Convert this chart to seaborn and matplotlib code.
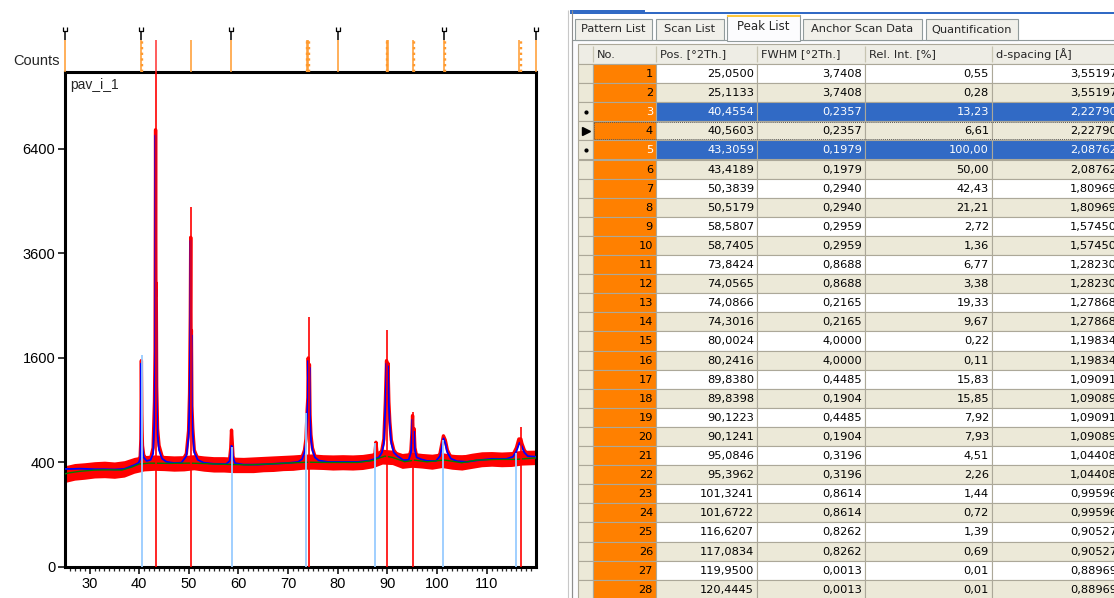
import numpy as np
import matplotlib
matplotlib.use("Agg")
import matplotlib.pyplot as plt
import seaborn as sns
from matplotlib.patches import Rectangle
from matplotlib.ticker import MultipleLocator

# --------------------------------
# PATTERN DATA
# --------------------------------

# background (green)
bg_x = [25.1, 26, 28, 31, 34, 36.5, 38.5, 40, 42, 46, 50, 53, 57, 62, 66, 70, 74, 78, 84, 87,
        89.5, 91, 93.5, 95.5, 98, 101.5, 105, 108, 112, 116, 119.9]
bg_y = [318, 325, 335, 344, 346, 344, 365, 388, 395, 393, 395, 392, 386, 382, 388, 396, 402, 400,
        400, 415, 450, 440, 406, 418, 405, 419, 398, 418, 424, 424, 436]

# noise band of the observed scan (red)
env_x = [25.1, 27, 29, 31, 33, 35, 37, 39, 41, 43, 45, 47, 49, 51, 53, 55, 57, 59, 61, 63, 65, 67,
         69, 71, 73, 75, 77, 79, 81, 83, 85, 87, 89, 91, 93, 95, 97, 99, 101, 103, 105, 107, 109,
         111, 113, 115, 117, 119.9]
env_lo = [262, 276, 282, 290, 292, 288, 296, 322, 338, 342, 340, 336, 338, 346, 336, 330, 330, 326,
          326, 326, 332, 334, 340, 342, 350, 350, 348, 344, 346, 344, 348, 360, 388, 384, 356, 364,
          358, 350, 362, 350, 344, 356, 368, 372, 368, 370, 380, 384]
env_hi = [376, 392, 398, 406, 410, 404, 414, 440, 454, 460, 456, 452, 454, 462, 452, 446, 446, 442,
          440, 444, 448, 452, 456, 460, 466, 468, 462, 460, 462, 460, 464, 476, 508, 500, 472, 482,
          472, 466, 478, 466, 458, 474, 486, 488, 484, 488, 498, 500]

# observed scan around the peaks (red)
obs_x = [25.1, 39, 39.9, 40.2, 40.34, 40.44, 40.52, 40.58, 40.66, 40.9, 41.5, 42.3, 42.8, 43.08,
         43.2, 43.3, 43.37, 43.43, 43.52, 43.7, 44.0, 44.6, 45.5, 47, 48.5, 49.5, 49.95, 50.15,
         50.3, 50.38, 50.45, 50.52, 50.62, 50.8, 51.1, 51.8, 53, 57.5, 58.2, 58.45, 58.6, 58.76,
         58.9, 59.3, 61, 72, 72.8, 73.3, 73.6, 73.84, 73.98, 74.06, 74.18, 74.3, 74.42, 74.6, 74.9,
         75.4, 76.2, 86.5, 87.5, 87.7, 87.9, 88.3, 88.9, 89.3, 89.6, 89.84, 89.98, 90.12, 90.3,
         90.5, 90.8, 91.3, 92, 93.2, 94.3, 94.75, 94.95, 95.08, 95.22, 95.39, 95.55, 95.9, 96.8,
         99.8, 100.6, 101.0, 101.3, 101.67, 102.1, 102.8, 115.3, 116.0, 116.5, 116.9, 117.1,
         117.6, 118.3, 119.9]
obs_y = [330, 380, 410, 450, 600, 1560, 860, 680, 540, 460, 420, 430, 520, 999,
         1700, 7000, 2700, 2950, 1200, 700, 540, 450, 410, 400, 402, 470, 680, 1100,
         2300, 3980, 1800, 2050, 950, 700, 500, 430, 400, 390, 420, 520, 686, 560,
         450, 400, 388, 408, 440, 500, 600, 900, 1050, 1600, 1200, 1500, 850, 640, 520,
         450, 420, 420, 470, 570, 480, 450, 500, 600, 1000, 1560, 1150, 1520, 1000,
         770, 590, 500, 460, 425, 430, 500, 660, 840, 600, 700, 520, 450, 430,
         420, 470, 560, 630, 590, 500, 440, 460, 520, 600, 600, 560,
         500, 460, 450]

# calculated profile (blue)
calc_x = [25.1, 26.5, 28, 29.5, 31, 33, 35, 37, 39, 39.9, 40.2, 40.32, 40.42, 40.5, 40.56, 40.64,
          40.9, 41.5, 42.3, 42.8, 43.05, 43.2, 43.3, 43.37, 43.42, 43.5, 43.7, 44.0, 44.6, 45.5,
          47, 48.5, 49.5, 49.95, 50.15, 50.3, 50.38, 50.45, 50.52, 50.62, 50.8, 51.1, 51.8, 53,
          55, 57.5, 58.2, 58.45, 58.58, 58.74, 58.9, 59.3, 61, 64, 67, 70, 72, 72.8, 73.3, 73.6,
          73.84, 73.98, 74.06, 74.18, 74.3, 74.42, 74.6, 74.9, 75.4, 76.2, 78, 81, 84, 86.5, 88.3,
          88.9, 89.3, 89.6, 89.84, 89.98, 90.12, 90.3, 90.5, 90.8, 91.3, 92, 93.2, 94.3, 94.75,
          94.95, 95.08, 95.22, 95.39, 95.55, 95.9, 96.8, 98, 99.8, 100.6, 101.0, 101.32, 101.67,
          102.1, 102.8, 104, 106, 108, 111, 114, 115.3, 116.0, 116.62, 117.08, 117.6, 118.3, 119.9]
calc_y = [352, 352, 354, 352, 350, 350, 348, 352, 380, 398, 430, 545, 1517, 820, 640, 520,
          440, 412, 420, 470, 760, 1600, 6823, 2600, 2831, 1100, 640, 500, 430, 405,
          396, 398, 450, 620, 1019, 2200, 3903, 1700, 1969, 900, 654, 480, 420, 398,
          390, 388, 410, 480, 538, 530, 440, 395, 384, 384, 390, 396, 404, 425, 480, 560,
          867, 1000, 1556, 1150, 1458, 800, 600, 500, 440, 415, 404, 404, 404, 415, 440,
          480, 560, 960, 1517, 1100, 1477, 960, 737, 560, 480, 452, 418, 420, 480,
          620, 797, 560, 669, 500, 440, 425, 412, 412, 450, 530, 606, 560,
          480, 430, 410, 405, 416, 428, 428, 445, 490, 565, 535, 480, 450, 445]

# reference patterns (sticks)
ref_red_pos = [43.30, 50.43, 74.13, 89.93, 95.14, 116.92]
ref_red_h = [9500, 4745, 2290, 2053, 882, 720]
ref_blue_pos = [40.65, 58.70, 73.70, 87.60, 101.25, 116.00]
ref_blue_h = [1643, 530, 867, 560, 590, 472]

y_ticks = [0, 400, 1600, 3600, 6400]
x_ticks = [30, 40, 50, 60, 70, 80, 90, 100, 110]

# --------------------------------
# PEAK LIST
# --------------------------------

pos = [25.0500, 25.1133, 40.4554, 40.5603, 43.3059, 43.4189, 50.3839, 50.5179, 58.5807, 58.7405,
       73.8424, 74.0565, 74.0866, 74.3016, 80.0024, 80.2416, 89.8380, 89.8398, 90.1223, 90.1241,
       95.0846, 95.3962, 101.3241, 101.6722, 116.6207, 117.0834, 119.9500, 120.4445]
fwhm = [3.7408, 3.7408, 0.2357, 0.2357, 0.1979, 0.1979, 0.2940, 0.2940, 0.2959, 0.2959,
        0.8688, 0.8688, 0.2165, 0.2165, 4.0000, 4.0000, 0.4485, 0.1904, 0.4485, 0.1904,
        0.3196, 0.3196, 0.8614, 0.8614, 0.8262, 0.8262, 0.0013, 0.0013]
rel_int = [0.55, 0.28, 13.23, 6.61, 100.00, 50.00, 42.43, 21.21, 2.72, 1.36,
           6.77, 3.38, 19.33, 9.67, 0.22, 0.11, 15.83, 15.85, 7.92, 7.93,
           4.51, 2.26, 1.44, 0.72, 1.39, 0.69, 0.01, 0.01]
d_spacing = [3.55197, 3.55197, 2.22790, 2.22790, 2.08762, 2.08762, 1.80969, 1.80969, 1.57450,
             1.57450, 1.28230, 1.28230, 1.27868, 1.27868, 1.19834, 1.19834, 1.09091, 1.09089,
             1.09091, 1.09089, 1.04408, 1.04408, 0.99596, 0.99596, 0.90527, 0.90527, 0.88969,
             0.88969]
selected_rows = [3, 5]
current_row = 4
marked_peaks = [25.05, 40.4554, 58.5807, 80.0024, 101.3241, 119.95]
dotted_peaks = [40.60, 73.90, 74.25, 89.98, 95.45, 101.55, 116.85]

tab_names = ["Pattern List", "Scan List", "Peak List", "Anchor Scan Data", "Quantification"]
col_names = ["No.", "Pos. [°2Th.]", "FWHM [°2Th.]", "Rel. Int. [%]", "d-spacing [Å]"]

# --------------------------------
# FIGURE
# --------------------------------

sns.set_theme(style="ticks")
plt.rcParams["font.family"] = ["Liberation Sans", "DejaVu Sans"]

W, H = 1114, 598
fig = plt.figure(figsize=(W / 100, H / 100), dpi=100)
fig.patch.set_facecolor("white")

ui = fig.add_axes([0, 0, 1, 1])
ui.set_xlim(0, W)
ui.set_ylim(H, 0)
ui.axis("off")


def px_axes(x0, y0, x1, y1, **kw):
    return fig.add_axes([x0 / W, 1 - y1 / H, (x1 - x0) / W, (y1 - y0) / H], **kw)


ax = px_axes(65, 72, 536, 567)
strip = px_axes(65, 25, 536, 72, sharex=ax)

ax.set_yscale("function", functions=(lambda v: np.sqrt(np.clip(v, 0, None)),
                                     lambda v: np.square(v)))

ax.fill_between(env_x, env_lo, env_hi, color="#FF0000", lw=0, zorder=1)
sns.lineplot(x=obs_x, y=obs_y, ax=ax, color="#FF0000", linewidth=2.4, zorder=2,
             estimator=None, sort=False)
sns.lineplot(x=calc_x, y=calc_y, ax=ax, color="#0000FF", linewidth=1.3, zorder=3,
             estimator=None, sort=False)
sns.lineplot(x=bg_x, y=bg_y, ax=ax, color="#008000", linewidth=1.0, zorder=4,
             estimator=None, sort=False)
ax.vlines(ref_blue_pos, 0, ref_blue_h, color="#99CCFF", lw=1.3, zorder=5)
ax.vlines(ref_red_pos, 0, ref_red_h, color="#FF0000", lw=1.2, zorder=6)

ax.set_xlim(25.05, 119.95)
ax.set_ylim(0, 8970)
ax.set_yticks(y_ticks)
ax.set_yticklabels([str(t) for t in y_ticks])
ax.set_xticks(x_ticks)
ax.set_xticklabels([str(t) for t in x_ticks])
ax.xaxis.set_minor_locator(MultipleLocator(1))
ax.tick_params(axis="both", which="major", direction="out", length=5, width=1.1,
               labelsize=10.5, colors="black", pad=2, bottom=True, left=True)
ax.tick_params(axis="x", which="minor", direction="out", length=3, width=0.9, bottom=True)
for s in ax.spines.values():
    s.set_linewidth(2.2)
    s.set_color("black")
ax.set_xlabel("")
ax.set_ylabel("")
ax.text(0.012, 0.988, "pav_i_1", transform=ax.transAxes, ha="left", va="top", fontsize=10)

# peak markers above the plot
orange = "#FF9A2E"
strip.axis("off")
strip.set_ylim(0, 1)
strip.vlines(dotted_peaks, 0, 0.68, color=orange, lw=1.7, linestyles=(0, (1.0, 1.4)),
             clip_on=False)
for i, p in enumerate(pos):
    if i % 2 == 0:
        col = "#FF3030" if i == 4 else orange
        strip.vlines(p, 0, 0.68, color=col, lw=1.1, clip_on=False)
strip.vlines(marked_peaks, 0.68, 0.86, color="black", lw=1.1, clip_on=False)
u_marker = [(-1, 1), (-1, -1), (1, -1), (1, 1)]
strip.plot(marked_peaks, [0.92] * len(marked_peaks), ls="none", marker=u_marker, ms=3,
           mfc="none", mec="black", mew=0.9, clip_on=False)
ui.text(60, 61, "Counts", ha="right", va="center", fontsize=10.5)

# --------------------------------
# PEAK LIST PANEL
# --------------------------------

beige = "#ECE9D8"
grid = "#ACA899"
sel = "#316AC5"
fs = 8.2
tf = "DejaVu Sans"

ui.add_patch(Rectangle((570, 10), 75, 3.5, fc=sel, ec="none"))
ui.add_patch(Rectangle((645, 12), 480, 1.5, fc=sel, ec="none"))
ui.vlines([567.5], 10, H, color="#C8C8C8", lw=0.8)
ui.vlines([571.5], 10, H, color="#8E8E8E", lw=0.8)

# tabs
tab_x = [(575, 652), (656, 724), (727, 800), (803, 922), (926, 1018)]
ui.add_patch(Rectangle((572, 40), 560, 560, fc="#FCFCFE", ec="#919B9C", lw=0.8))
for k, (name, (x0, x1)) in enumerate(zip(tab_names, tab_x)):
    if k == 2:
        ui.add_patch(Rectangle((x0, 15), x1 - x0, 26, fc="#FCFCFE", ec="#919B9C", lw=0.8,
                               zorder=3))
        ui.add_patch(Rectangle((x0, 14.5), x1 - x0, 2.5, fc="#FFC83C", ec="none", zorder=4))
        ui.text((x0 + x1) / 2, 27, name, ha="center", va="center", fontsize=fs + 0.3,
                family=tf, zorder=5)
    else:
        ui.add_patch(Rectangle((x0, 18.5), x1 - x0, 21.5, fc="#F1F0EA", ec="#919B9C", lw=0.8,
                               zorder=2))
        ui.text((x0 + x1) / 2, 29.5, name, ha="center", va="center", fontsize=fs,
                family=tf, zorder=5)

# table grid
cols = [578, 593, 656, 757, 865, 992, 1130]
top, hh, rh = 44, 20, 19.1
ui.add_patch(Rectangle((cols[0], top), W - cols[0] + 20, hh, fc="#EEEDE5", ec=grid, lw=0.8))
for c, name in zip(cols[1:-1], col_names):
    ui.text(c + 4, top + hh / 2 + 0.5, name, ha="left", va="center", fontsize=fs, family=tf)
ui.vlines(cols[1:-1], top + 2, top + hh - 2, color="#C7C5B2", lw=0.9)

for r in range(len(pos)):
    n = r + 1
    y0 = top + hh + r * rh
    if n in selected_rows:
        fc, tc = sel, "white"
    elif n % 2 == 1:
        fc, tc = "white", "black"
    else:
        fc, tc = beige, "black"
    ui.add_patch(Rectangle((cols[0], y0), cols[1] - cols[0], rh, fc=beige, ec=grid, lw=0.8))
    ui.add_patch(Rectangle((cols[1], y0), cols[2] - cols[1], rh, fc="#FF8000", ec=grid, lw=0.8))
    for a, b in zip(cols[2:-1], cols[3:]):
        ui.add_patch(Rectangle((a, y0), b - a, rh, fc=fc, ec=grid, lw=0.8))
    yc = y0 + rh / 2 + 0.5
    vals = [str(n),
            f"{pos[r]:.4f}".replace(".", ","),
            f"{fwhm[r]:.4f}".replace(".", ","),
            f"{rel_int[r]:.2f}".replace(".", ","),
            f"{d_spacing[r]:.5f}".replace(".", ",")]
    rights = [653, 754, 862, 989, 1117]
    for v, xr in zip(vals, rights):
        ui.text(xr, yc, v, ha="right", va="center", fontsize=fs, color=tc, family=tf)
    if n in selected_rows:
        ui.plot(585.5, yc, marker="o", ms=2, color="black")
    if n == current_row:
        ui.plot(585.5, yc, marker=">", ms=5.5, color="black")
        ui.add_patch(Rectangle((cols[1] + 1, y0 + 1), W, rh - 2, fc="none", ec="#555555",
                               lw=0.7, ls=(0, (1, 1))))

fig.savefig("out.png", dpi=100)
